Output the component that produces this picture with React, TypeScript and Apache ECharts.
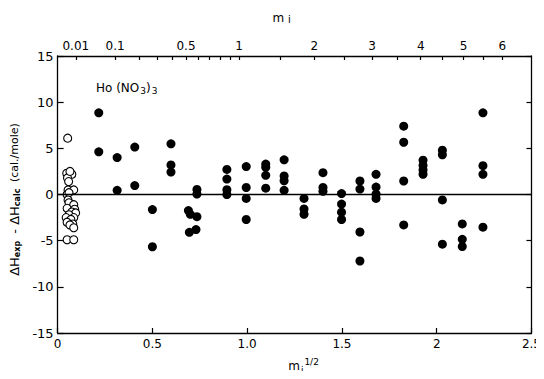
import React, { useEffect, useRef } from "react";
import * as echarts from "echarts";

// open circles (dilute region)
const openPoints: [number, number][] = [
  [0.053, 6.1],
  [0.048, 2.3], [0.075, 2.2], [0.052, 1.8], [0.065, 2.5], [0.058, 1.4],
  [0.055, 0.5], [0.085, 0.5], [0.05, 0.0], [0.06, 0.2],
  [0.055, -0.6], [0.06, -0.9], [0.085, -1.1], [0.05, -1.5], [0.09, -1.6],
  [0.075, -1.9], [0.095, -2.0], [0.06, -2.2], [0.085, -2.5], [0.045, -2.5],
  [0.07, -2.7], [0.05, -3.0], [0.08, -3.2], [0.065, -3.3], [0.085, -3.6],
  [0.05, -4.9], [0.085, -4.9],
];

// filled circles
const filledPoints: [number, number][] = [
  [0.217, 8.85], [0.217, 4.62],
  [0.314, 4.0], [0.314, 0.45],
  [0.407, 5.14], [0.407, 0.97],
  [0.5, -1.63], [0.5, -5.66],
  [0.598, 5.49], [0.598, 3.2], [0.598, 2.43],
  [0.69, -1.74], [0.7, -2.15], [0.735, -2.4], [0.695, -4.1], [0.73, -3.8],
  [0.735, 0.55], [0.735, 0.05],
  [0.893, 2.71], [0.893, 1.67], [0.893, 0.52], [0.893, 0.0],
  [0.995, 3.02], [0.995, 0.76], [0.995, -0.42], [0.995, -2.71],
  [1.098, 3.3], [1.098, 2.95], [1.098, 2.08], [1.098, 0.69],
  [1.195, 3.75], [1.195, 2.01], [1.195, 1.49], [1.195, 0.45],
  [1.3, -0.42], [1.3, -1.56], [1.3, -2.15],
  [1.4, 2.36], [1.4, 0.76], [1.4, 0.35],
  [1.498, 0.1], [1.498, -1.04], [1.498, -1.91], [1.498, -2.71],
  [1.595, 1.46], [1.595, 0.59], [1.595, -4.06], [1.595, -7.2],
  [1.68, 2.19], [1.68, 0.8], [1.68, 0.05], [1.68, -0.42],
  [1.826, 7.4], [1.826, 5.66], [1.826, 1.46], [1.826, -3.3],
  [1.928, 3.72], [1.928, 3.15], [1.928, 2.65], [1.928, 2.19],
  [2.03, 4.79], [2.03, 4.3], [2.03, -0.59], [2.03, -5.38],
  [2.135, -3.19], [2.135, -4.86], [2.135, -5.63],
  [2.244, 8.85], [2.244, 3.12], [2.244, 2.19], [2.244, -3.54],
];

const bottomTickLabels = ["0", "0.5", "1.0", "1.5", "2", "2.5"];
const leftTickLabels = ["-15", "-10", "-5", "0", "5", "10", "15"];
const topLabelValues = [0.01, 0.1, 0.5, 1, 2, 3, 4, 5, 6];
const topLabelTexts = ["0.01", "0.1", "0.5", "1", "2", "3", "4", "5", "6"];
const topTickValues = [
  0.01, 0.1, 0.2, 0.3, 0.4, 0.5, 0.6, 0.7, 0.8, 0.9, 1, 1.5, 2, 2.5, 3, 3.5, 4,
  4.5, 5, 5.5, 6,
];

const FONT = "DejaVu Sans";

export default function App() {
  const ref = useRef<HTMLDivElement>(null);
  useEffect(() => {
    if (!ref.current) return;
    const chart = echarts.init(ref.current, null, { renderer: "svg" });
    const axisLine = { show: true, onZero: false, lineStyle: { color: "#000", width: 1.3 } };
    const tick = (length: number, extra: any = {}) => ({
      show: true,
      inside: true,
      length,
      lineStyle: { color: "#000", width: 1.2 },
      ...extra,
    });
    const labelStyle = { color: "#000", fontFamily: FONT, fontSize: 12 };
    chart.setOption({
      animation: false,
      backgroundColor: "#fff",
      grid: { left: 57, right: 12, top: 56, bottom: 35 },
      xAxis: [
        {
          type: "value",
          position: "bottom",
          min: 0,
          max: 2.5,
          interval: 0.5,
          axisLine,
          axisTick: tick(5),
          splitLine: { show: false },
          axisLabel: {
            ...labelStyle,
            margin: 5,
            formatter: (v: number) => bottomTickLabels[Math.round(v / 0.5)] ?? "",
          },
          name: "m{s|i}{p|1/2}",
          nameLocation: "middle",
          nameGap: 24,
          nameTextStyle: {
            color: "#000",
            fontFamily: FONT,
            fontSize: 12,
            padding: [0, 0, 0, 18],
            rich: {
              s: { fontSize: 9, verticalAlign: "bottom", padding: [6, 0, 0, 1], fontFamily: FONT },
              p: { fontSize: 9, verticalAlign: "top", padding: [0, 0, 8, 1], fontFamily: FONT },
            },
          },
        },
        {
          type: "value",
          position: "top",
          min: 0,
          max: 2.61,
          axisLine,
          axisTick: tick(4, { customValues: topTickValues.map((m) => Math.sqrt(m)) }),
          splitLine: { show: false },
          axisLabel: {
            ...labelStyle,
            margin: 4,
            customValues: topLabelValues.map((m) => Math.sqrt(m)),
            formatter: (v: number) => {
              const i = topLabelValues.findIndex((m) => Math.abs(Math.sqrt(m) - v) < 1e-6);
              return i >= 0 ? topLabelTexts[i] : "";
            },
          },
          name: "m {s|i}",
          nameLocation: "middle",
          nameGap: 32,
          nameTextStyle: {
            color: "#000",
            fontFamily: FONT,
            fontSize: 12,
            padding: [0, 26, 0, 0],
            rich: { s: { fontSize: 10, fontFamily: FONT, padding: [3, 0, 0, 0] } },
          },
        },
      ],
      yAxis: [
        {
          type: "value",
          position: "left",
          min: -15,
          max: 15,
          interval: 5,
          axisLine,
          axisTick: tick(6),
          splitLine: { show: false },
          axisLabel: {
            ...labelStyle,
            fontSize: 13,
            margin: 4,
            formatter: (v: number) => leftTickLabels[Math.round((v + 15) / 5)] ?? "",
          },
          name: "{h|ΔH}{s|exp}{h| - ΔH}{s|calc} (cal./mole)",
          nameLocation: "middle",
          nameRotate: 90,
          nameGap: 29,
          nameTextStyle: {
            color: "#000",
            fontFamily: FONT,
            fontSize: 11,
            padding: [0, 10, 0, 0],
            rich: {
              h: { fontSize: 13, fontFamily: FONT },
              s: { fontSize: 8, fontWeight: "bold", fontFamily: FONT, padding: [6, 3, 0, 0] },
            },
          },
        },
        {
          type: "value",
          position: "right",
          min: -15,
          max: 15,
          interval: 5,
          axisLine,
          axisTick: tick(5),
          splitLine: { show: false },
          axisLabel: { show: false },
        },
      ],
      graphic: [
        {
          type: "text",
          left: 96,
          top: 82,
          style: {
            text: "Ho (NO{s|3}){s|3}",
            fill: "#000",
            font: `12px ${FONT}`,
            rich: { s: { fontSize: 9, fontFamily: FONT, padding: [5, 0, 0, 1] } },
          },
        },
      ],
      series: [
        {
          type: "scatter",
          xAxisIndex: 0,
          yAxisIndex: 0,
          data: filledPoints,
          symbol: "circle",
          symbolSize: 9,
          itemStyle: { color: "#000", opacity: 1 },
          markLine: {
            silent: true,
            symbol: "none",
            label: { show: false },
            lineStyle: { color: "#000", width: 1.4, type: "solid" },
            data: [{ yAxis: 0 }],
          },
          z: 3,
        },
        {
          type: "scatter",
          xAxisIndex: 0,
          yAxisIndex: 0,
          data: openPoints,
          symbol: "circle",
          symbolSize: 8,
          itemStyle: { color: "#fff", borderColor: "#000", borderWidth: 1.1, opacity: 1 },
          z: 4,
        },
      ],
    });
    return () => chart.dispose();
  }, []);
  return <div ref={ref} style={{ width: 544, height: 379, margin: -8 }} />;
}
